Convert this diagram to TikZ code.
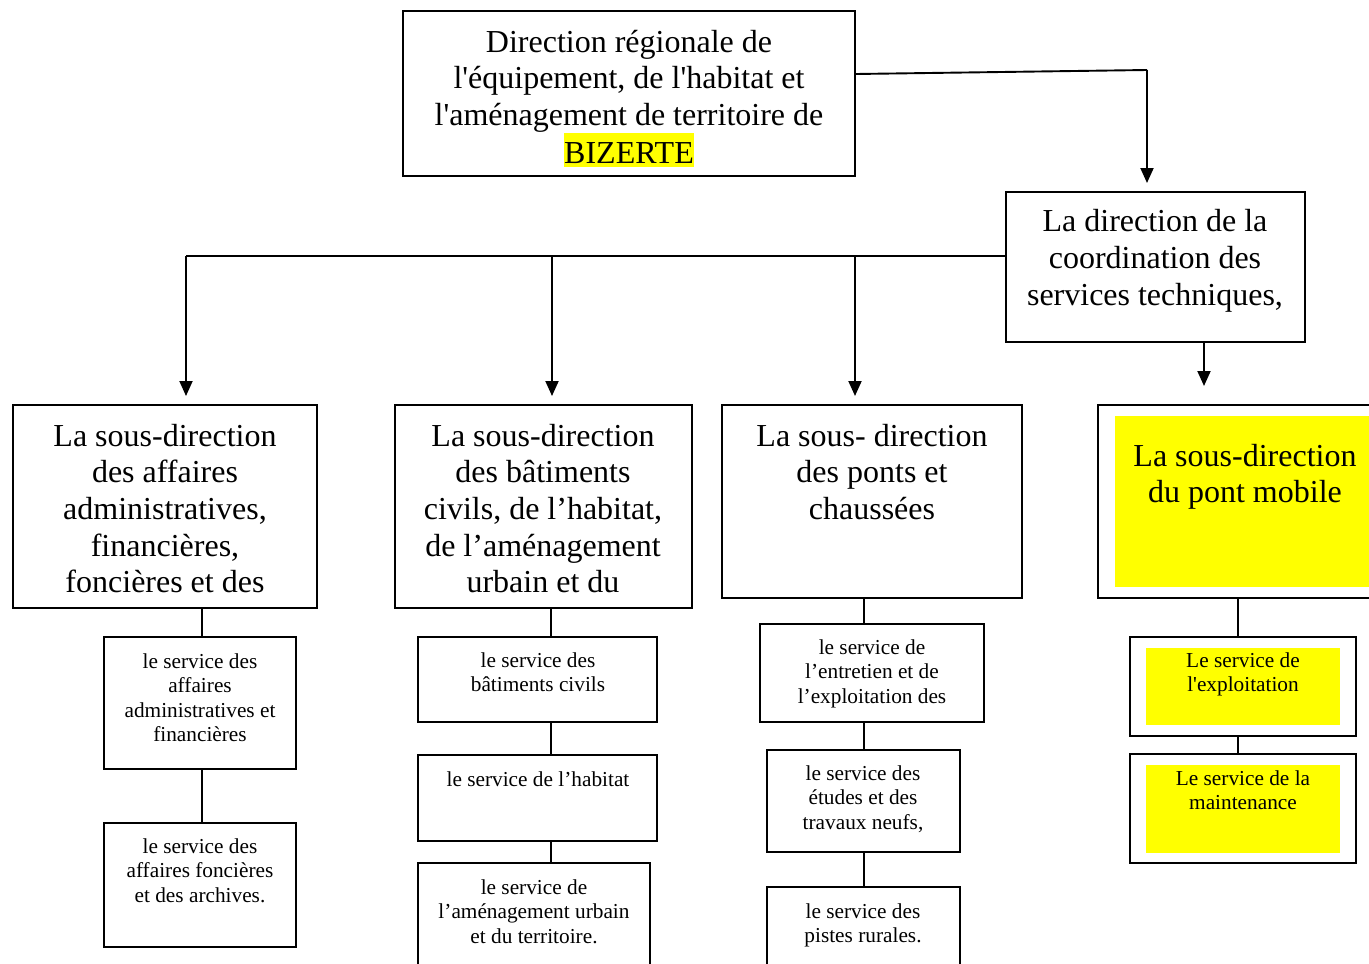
\documentclass[tikz,border=0pt]{standalone}
\usepackage{fontspec}
\setmainfont{Liberation Serif}
\usetikzlibrary{arrows.meta}
\newcommand\myq{\textquotesingle}
\definecolor{hl}{RGB}{255,255,0}
\begin{document}
\begin{tikzpicture}[x=1pt,y=-1pt,
 box/.style={draw, line width=1.9pt, inner sep=0pt, fill=white},
 ybox/.style={fill=hl, draw=none, inner sep=0pt},
 big/.style={font=\fontsize{32}{36.7}\selectfont, align=center, inner sep=0pt, anchor=north},
 small/.style={font=\fontsize{21.3}{24.5}\selectfont, align=center, inner sep=0pt, anchor=north},
 arr/.style={line width=1.9pt, -{Triangle[length=15pt,width=13pt]}},
 ln/.style={line width=1.9pt}]
\useasboundingbox (0,0) rectangle (1369,964);
% boxes
\node[box, minimum width=452pt, minimum height=165pt] (top) at (629,93.5) {};
\node[box, minimum width=299pt, minimum height=150pt] (coord) at (1155.5,267) {};
\node[box, minimum width=304pt, minimum height=203pt] (A) at (165,506.5) {};
\node[box, minimum width=297pt, minimum height=203pt] (B) at (543.5,506.5) {};
\node[box, minimum width=300pt, minimum height=193pt] (C) at (872,501.5) {};
\node[box, minimum width=282pt, minimum height=193pt] (D) at (1239,501.5) {};
\node[ybox, minimum width=265pt, minimum height=171pt] (Dy) at (1247.5,501.5) {};
\node[box, minimum width=192pt, minimum height=132pt] (A1) at (200,703) {};
\node[box, minimum width=192pt, minimum height=124pt] (A2) at (200,885) {};
\node[box, minimum width=239pt, minimum height=85pt] (B1) at (537.5,679.5) {};
\node[box, minimum width=239pt, minimum height=86pt] (B2) at (537.5,798) {};
\node[box, minimum width=232pt, minimum height=112pt] (B3) at (534,919) {};
\node[box, minimum width=224pt, minimum height=98pt] (C1) at (872,673) {};
\node[box, minimum width=193pt, minimum height=102pt] (C2) at (863.5,801) {};
\node[box, minimum width=193pt, minimum height=88pt] (C3) at (863.5,931) {};
\node[box, minimum width=226pt, minimum height=99pt] (D1) at (1243,686.5) {};
\node[ybox, minimum width=194pt, minimum height=77pt] (D1y) at (1243,686.5) {};
\node[box, minimum width=226pt, minimum height=109pt] (D2) at (1243,808.5) {};
\node[ybox, minimum width=194pt, minimum height=88pt] (D2y) at (1243,809) {};
% texts
\node[big] (ttop) at (629,26.3) {\strut Direction régionale de\\l\myq équipement, de l\myq habitat et\\l\myq aménagement de territoire de\\{\setlength{\fboxsep}{0pt}\colorbox{hl}{\rule[-4pt]{0pt}{34pt}BIZERTE}}};
\node[big] (tcoord) at (1155,206) {\strut La direction de la\\coordination des\\services techniques,};
\node[big] (tA) at (165,420.3) {\strut La sous-direction\\des affaires\\administratives,\\financières,\\foncières et des};
\node[big] (tB) at (543,420.3) {\strut La sous-direction\\des bâtiments\\civils, de l’habitat,\\de l’aménagement\\urbain et du};
\node[big] (tC) at (872,420.3) {\strut La sous- direction\\des ponts et\\chaussées};
\node[big] (tD) at (1245,440.3) {\strut La sous-direction\\du pont mobile};
\node[small] (tA1) at (200,650.9) {\strut le service des\\affaires\\administratives et\\financières};
\node[small] (tA2) at (200,836) {\strut le service des\\affaires foncières\\et des archives.};
\node[small] (tB1) at (538,650) {\strut le service des\\bâtiments civils};
\node[small] (tB2) at (538,769) {\strut le service de l’habitat};
\node[small] (tB3) at (534,877) {\strut le service de\\l’aménagement urbain\\et du territoire.};
\node[small] (tC1) at (872,637) {\strut le service de\\l’entretien et de\\l’exploitation des};
\node[small] (tC2) at (863,763) {\strut le service des\\études et des\\travaux neufs,};
\node[small] (tC3) at (863,901) {\strut le service des\\pistes rurales.};
\node[small] (tD1) at (1243,650) {\strut Le service de\\l\myq exploitation};
\node[small] (tD2) at (1243,768) {\strut Le service de la\\maintenance};
% coordinates
\coordinate (k1) at (1147,70);
\coordinate (h0) at (186,256);
\coordinate (h1) at (552,256);
\coordinate (h2) at (855,256);
\coordinate (hc) at (1006,256);
\coordinate (xb) at (551,0);
\coordinate (xc) at (864,0);
\coordinate (xd) at (1238,0);
\coordinate (xcd) at (1204,0);
% arrows
\draw[ln] (top.east |- 0,74) -- (k1);
\draw[arr] (k1) -- (k1 |- 0,183);
\draw[ln] (hc) -- (h0);
\draw[arr] (h0) -- (h0 |- 0,396);
\draw[arr] (h1) -- (h1 |- 0,396);
\draw[arr] (h2) -- (h2 |- 0,396);
\draw[arr] (coord.south -| xcd) -- (xcd |- 0,386);
% connectors
\draw[ln] (A.south -| A1.north) ++(2,0) -- ([xshift=2pt]A1.north);
\draw[ln] ([xshift=2pt]A1.south) -- ([xshift=2pt]A2.north);
\draw[ln] (B.south -| xb) -- (B1.north -| xb);
\draw[ln] (B1.south -| xb) -- (B2.north -| xb);
\draw[ln] (B2.south -| xb) -- (B3.north -| xb);
\draw[ln] (C.south -| xc) -- (C1.north -| xc);
\draw[ln] (C1.south -| xc) -- (C2.north -| xc);
\draw[ln] (C2.south -| xc) -- (C3.north -| xc);
\draw[ln] (D.south -| xd) -- (D1.north -| xd);
\draw[ln] (D1.south -| xd) -- (D2.north -| xd);
\end{tikzpicture}
\end{document}
